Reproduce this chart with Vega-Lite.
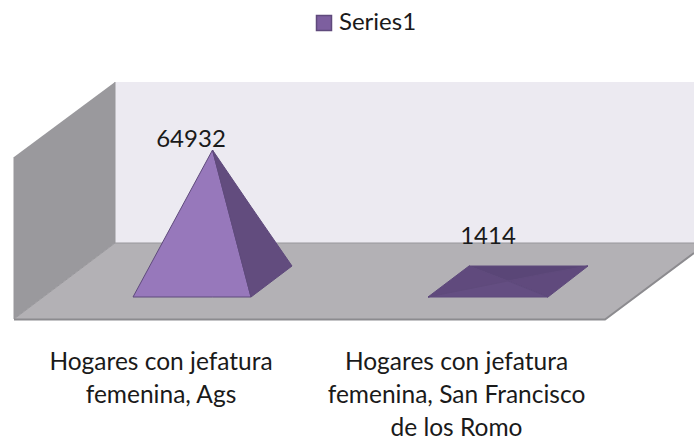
{"$schema":"https://vega.github.io/schema/vega-lite/v6.json","width":694,"height":441,"autosize":"none","padding":0,"background":"white","view":{"stroke":null},
"datasets":{
"scene":[
{"part":"wall","x":115,"y":82,"y2":243},{"part":"wall","x":694,"y":82,"y2":243},
{"part":"side","x":14,"y":157,"y2":319},{"part":"side","x":115,"y":82,"y2":243},
{"part":"floor","x":14,"y":319,"y2":319},{"part":"floor","x":115,"y":243,"y2":319},{"part":"floor","x":605,"y":243,"y2":319},{"part":"floor","x":694,"y":243,"y2":253}],
"frontEdge":[{"x":14,"y":319.5},{"x":605,"y":319.5},{"x":694,"y":253}],
"backEdges":[{"edge":"back","x":14,"y":319},{"edge":"back","x":115,"y":243},{"edge":"back","x":694,"y":243},{"edge":"corner","x":115,"y":82},{"edge":"corner","x":115,"y":243},{"edge":"left","x":14,"y":157},{"edge":"left","x":14,"y":319}],
"pyramids":[
{"face":"a-front","x":133,"y":297,"y2":297},{"face":"a-front","x":212.5,"y":150,"y2":297},{"face":"a-front","x":251,"y":297,"y2":297},
{"face":"a-right","x":212.5,"y":150,"y2":150},{"face":"a-right","x":251,"y":206.6,"y2":297},{"face":"a-right","x":292,"y":266,"y2":266},
{"face":"b-back","x":469,"y":266,"y2":266},{"face":"b-back","x":508,"y":266,"y2":281},{"face":"b-back","x":588,"y":266,"y2":266},
{"face":"b-left","x":428,"y":297,"y2":297},{"face":"b-left","x":469,"y":266,"y2":289},{"face":"b-left","x":508,"y":281,"y2":281},
{"face":"b-right","x":508,"y":281,"y2":281},{"face":"b-right","x":548,"y":273,"y2":297},{"face":"b-right","x":588,"y":266,"y2":266},
{"face":"b-front","x":428,"y":297,"y2":297},{"face":"b-front","x":508,"y":281,"y2":297},{"face":"b-front","x":548,"y":297,"y2":297}],
"values":[{"value":64932,"x":191,"y":147},{"value":1414,"x":488,"y":244}],
"cats":[{"label":"Hogares con jefatura\nfemenina, Ags","x":161,"y":370},{"label":"Hogares con jefatura\nfemenina, San Francisco\nde los Romo","x":456.5,"y":370}]
},
"resolve":{"scale":{"color":"independent"}},
"layer":[
{"data":{"name":"scene"},"mark":{"type":"area"},
"encoding":{"x":{"field":"x","type":"quantitative","scale":{"domain":[0,694],"nice":false,"zero":false},"axis":null},"y":{"field":"y","type":"quantitative","scale":{"domain":[441,0],"nice":false,"zero":false},"axis":null},"y2":{"field":"y2"},
"color":{"field":"part","type":"nominal","scale":{"domain":["wall","side","floor"],"range":["#ECEAF1","#9a999d","#b3b1b5"]},"legend":null}}},
{"data":{"name":"backEdges"},"mark":{"type":"line","color":"#98979b","strokeWidth":1},
"encoding":{"x":{"field":"x","type":"quantitative"},"y":{"field":"y","type":"quantitative"},"detail":{"field":"edge"}}},
{"data":{"name":"frontEdge"},"mark":{"type":"line","color":"#8c8b8f","strokeWidth":2},
"encoding":{"x":{"field":"x","type":"quantitative"},"y":{"field":"y","type":"quantitative"}}},
{"data":{"name":"pyramids"},"mark":{"type":"area","stroke":"#5f4a7c","strokeWidth":1},
"encoding":{"x":{"field":"x","type":"quantitative"},"y":{"field":"y","type":"quantitative"},"y2":{"field":"y2"},
"color":{"field":"face","type":"nominal","scale":{"domain":["Series1","a-front","a-right","b-back","b-left","b-right","b-front"],"range":["#7d5f9f","#9778bb","#624c7e","#5a4677","#604a7d","#604a7d","#644e82"]},
"legend":{"orient":"none","legendX":312,"legendY":11,"title":null,"values":["Series1"],"symbolType":"square","symbolSize":225,"labelFont":"Lato","labelFontSize":24,"labelColor":"#1a1a1a","labelOffset":3}}}},
{"data":{"name":"values"},"mark":{"type":"text","font":"Lato","fontSize":24,"color":"#1a1a1a","align":"center","baseline":"alphabetic"},
"encoding":{"x":{"field":"x","type":"quantitative"},"y":{"field":"y","type":"quantitative"},"text":{"field":"value","type":"nominal"}}},
{"data":{"name":"cats"},"mark":{"type":"text","font":"Lato","fontSize":24.5,"color":"#1a1a1a","align":"center","baseline":"alphabetic","lineBreak":"\n","lineHeight":33},
"encoding":{"x":{"field":"x","type":"quantitative"},"y":{"field":"y","type":"quantitative"},"text":{"field":"label","type":"nominal"}}}
]}
